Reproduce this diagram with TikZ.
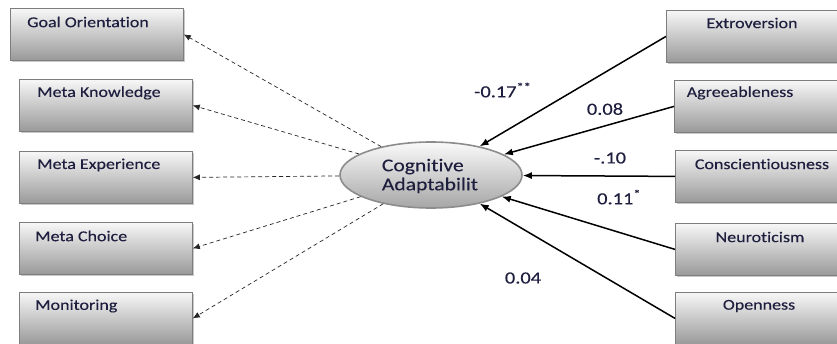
\documentclass[tikz,border=0pt]{standalone}
\usepackage{fontspec}
\setmainfont{Carlito}[FakeStretch=1.2, FakeBold=0.2, Ligatures=NoCommon]
\usetikzlibrary{arrows.meta,shadows,shapes.geometric}

\definecolor{txt}{RGB}{30,30,62}
\definecolor{boxline}{RGB}{125,125,125}

\begin{document}
\begin{tikzpicture}[x=1pt,y=-1pt,
  card/.style={draw=boxline, line width=0.8pt, top color=black!3, bottom color=black!40,
    drop shadow={shadow xshift=2pt, shadow yshift=-2pt, opacity=0.35, fill=black!60},
    minimum width=173pt, minimum height=52pt, anchor=north west, inner sep=0pt},
  rcard/.style={card, minimum width=172pt},
  cardtext/.style={text=txt, inner sep=0pt, font=\fontsize{15}{17}\selectfont},
  coef/.style={text=txt, inner sep=0pt, font=\fontsize{17}{18}\selectfont},
  dasharrow/.style={draw=black!85, line width=0.7pt, dash pattern=on 4pt off 3pt,
    -{Latex[length=7pt,width=6pt]}},
  solidarrow/.style={draw=black, line width=1.5pt, -{Latex[length=9pt,width=7pt]}},
]
\useasboundingbox (0,0) rectangle (837,343);
\fill[white] (0,0) rectangle (837,343);

% outcome boxes on the left
\node[card] (go) at (10,8) {};
\node[card] (mk) at (19,79) {};
\node[card] (me) at (19,151) {};
\node[card] (mc) at (19,222) {};
\node[card] (mo) at (19,292) {};
\node[cardtext, anchor=west] (goT) at (27,22) {Goal Orientation};
\node[cardtext, anchor=west] (mkT) at (37,93) {Meta Knowledge};
\node[cardtext, anchor=west] (meT) at (37,165) {Meta Experience};
\node[cardtext, anchor=west] (mcT) at (35,236) {Meta Choice};
\node[cardtext, anchor=west] (moT) at (35,306) {Monitoring};

% personality trait boxes on the right
\node[rcard] (ex) at (666,10) {};
\node[rcard] (ag) at (674,80) {};
\node[rcard] (co) at (675,150) {};
\node[rcard] (ne) at (675,223) {};
\node[rcard] (op) at (675,292) {};
\node[cardtext] (exT) at (752,23) {Extroversion};
\node[cardtext] (agT) at (740,93) {Agreeableness};
\node[cardtext] (coT) at (762,164) {Conscientiousness};
\node[cardtext] (neT) at (760,237) {Neuroticism};
\node[cardtext] (opT) at (759,306) {Openness};

% central construct
\node[ellipse, draw=black!45, line width=1.6pt, top color=black!2, bottom color=black!35,
  minimum width=182pt, minimum height=66pt, inner sep=0pt] (ca) at (431,175) {};
\node[cardtext, align=left, font=\fontsize{18}{19}\selectfont] (caT) at (430,176)
  {Cognitive\\Adaptabilit};

% paths from the construct to its dimensions
\draw[dasharrow] (ca) -- (go.east);
\draw[dasharrow] (ca) -- (mk.east);
\draw[dasharrow] (ca) -- (me.east);
\draw[dasharrow] (ca) -- (mc.east);
\draw[dasharrow] (ca) -- (mo.east);

% paths from the traits to the construct
\draw[solidarrow] (ex.west) -- (ca);
\draw[solidarrow] (ag.west) -- (ca);
\draw[solidarrow] (co.west) -- (ca);
\draw[solidarrow] (ne.west) -- (ca);
\draw[solidarrow] (op.west) -- (ca);

% path coefficients
\node[coef, anchor=west] (c1) at (474,90) {-0.17\textsuperscript{**}};
\node[coef] (c2) at (605,109) {0.08};
\node[coef] (c3) at (610,158) {-.10};
\node[coef, anchor=west] (c4) at (597,197) {0.11\textsuperscript{*}};
\node[coef] (c5) at (523,278) {0.04};
\end{tikzpicture}
\end{document}
